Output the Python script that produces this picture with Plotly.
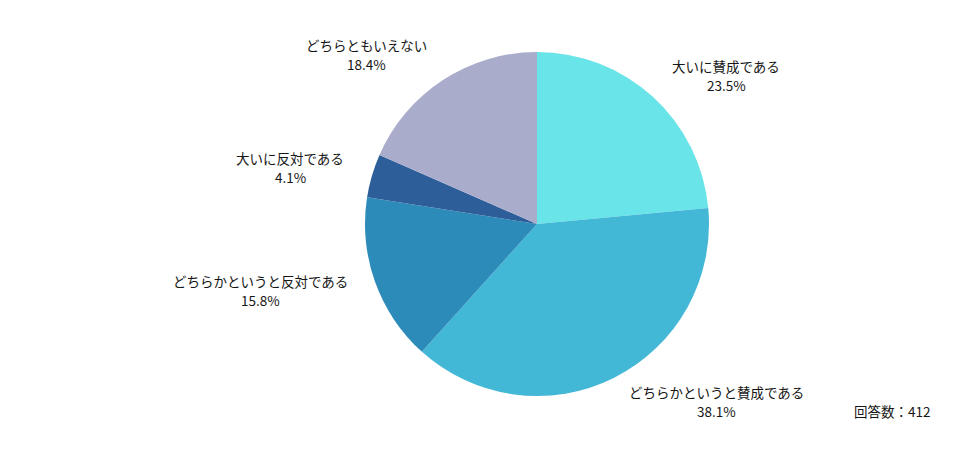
import plotly.graph_objects as go

labels = ["大いに賛成である", "どちらかというと賛成である", "どちらかというと反対である", "大いに反対である", "どちらともいえない"]
percents = [23.5, 38.1, 15.8, 4.1, 18.4]
colors = ["#69E4E8", "#42B7D6", "#2D8BBA", "#2E5E99", "#AAACCB"]
respondents = 412

W, H = 976, 459
# label anchor positions in pixels (center x, label-line y); percent line sits 19px below
label_px = [(726, 66), (716, 392), (260, 281), (290, 158), (366, 45)]

fig = go.Figure(go.Pie(
    labels=labels, values=percents, sort=False, direction="clockwise", rotation=0,
    marker=dict(colors=colors, line=dict(width=0)),
    textinfo="none", hoverinfo="label+percent",
    domain=dict(x=[365/W, 709/W], y=[1-396/H, 1-52/H]),
    showlegend=False,
))

font = dict(family="Noto Sans CJK JP", size=13.5, color="#161616")
for (px, py), lab, p in zip(label_px, labels, percents):
    for txt, yy in ((lab, py), (f"{p}%", py + 19)):
        fig.add_annotation(x=px/W, y=1-yy/H, xref="paper", yref="paper", text=txt,
                           showarrow=False, font=font, xanchor="center", yanchor="middle")
fig.add_annotation(x=892/W, y=1-411/H, xref="paper", yref="paper", text=f"回答数：{respondents}",
                   showarrow=False, font=font, xanchor="center", yanchor="middle")

fig.update_layout(width=W, height=H, margin=dict(l=0, r=0, t=0, b=0),
                  paper_bgcolor="white", plot_bgcolor="white")
fig.write_html("out.html")
